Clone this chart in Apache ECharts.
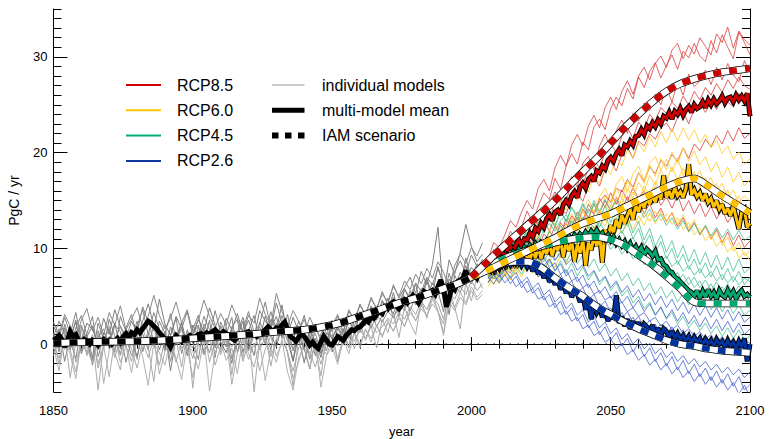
<!DOCTYPE html>
<html><head><meta charset="utf-8">
<script src="https://cdn.jsdelivr.net/npm/echarts@6/dist/echarts.min.js"></script>
<style>html,body{margin:0;padding:0;background:#fff}#c{width:774px;height:439px}</style>
</head><body><div id="c"></div>
<script>
// ---------- data ----------
const HIST_START = 1850, FUT_START = 2006, MODEL_STEP = 2;
// historical individual models (1850..2004 every 2 years)
const hist1 = [1.2,-0.8,2.1,0.3,-1.5,1.8,0.6,-2.2,1.4,-0.4, 2.6,0.9,-1.1,1.7,3.1,0.8,2.4,4.2,1.9,-0.6, 1.3,-2.8,0.7,2.2,-0.9,1.6,3.0,0.2,2.5,-1.4, 1.9,0.4,-2.0,1.2,2.8,0.5,-1.2,2.3,1.0,3.4, 1.5,4.1,0.9,-1.7,1.8,-0.5,-2.6,0.6,-1.0,2.0, -0.8,1.7,0.4,2.6,1.1,3.2,1.9,4.0,2.5,4.6, 3.3,5.4,2.9,5.8,4.4,6.3,3.9,6.8,5.2,8.1, 6.0,3.1,7.2,5.9,9.0,6.8,8.4,7.1];
const hist2 = [-0.5,1.6,-1.8,0.9,2.3,-0.7,1.1,2.9,-1.3,0.8, -0.2,2.0,1.3,-1.9,0.5,2.4,-0.8,1.0,3.3,1.6, -0.4,0.9,2.7,-1.0,1.5,0.1,-1.6,2.1,0.9,3.5, 1.2,-0.3,1.8,2.6,-0.9,1.4,3.0,0.3,1.7,-0.6, 2.2,0.8,3.1,0.5,2.4,1.1,-1.5,1.9,0.3,-0.7, 2.5,0.6,1.6,-0.4,2.9,1.4,2.2,3.7,1.8,3.0, 4.8,2.7,4.2,3.5,5.6,4.1,5.0,6.7,4.6,6.1, 4.9,7.4,5.5,6.3,8.2,6.5,7.6,8.9];
const hist3 = [0.4,-2.1,1.0,-3.5,0.2,1.5,-1.2,0.6,-4.8,0.1, 1.9,-0.9,-2.7,1.2,0.3,-1.6,1.8,-0.3,-3.9,0.8, 2.0,-1.1,0.5,-2.4,1.3,-4.6,0.7,1.6,-1.9,0.4, -0.8,2.1,-3.2,0.9,-1.4,1.5,-5.0,0.2,1.1,-2.3, 0.6,1.9,-1.0,-4.4,0.8,-2.0,1.4,-0.6,-3.3,0.9, 1.6,-1.8,0.3,1.8,-0.5,2.3,0.4,1.9,-0.4,2.6, 1.2,3.3,0.7,3.9,2.2,1.0,4.6,2.7,5.3,3.4, 2.1,5.9,3.8,1.6,6.4,4.5,7.1,5.8];
const hist4 = [1.9,0.7,2.8,1.1,3.3,0.4,2.2,1.5,0.2,2.7, 1.0,3.6,1.8,0.5,2.4,1.2,3.9,2.3,1.4,4.7, 2.1,0.9,2.9,1.6,3.4,0.8,2.6,1.3,3.8,2.0, 0.6,2.7,1.5,3.2,1.1,2.5,0.7,3.5,2.4,1.6, 4.3,2.2,0.9,2.8,1.3,3.0,0.5,2.1,1.7,0.4, 1.9,3.1,1.2,3.6,2.4,4.2,3.0,4.9,3.6,5.5, 4.1,6.2,4.8,5.9,7.0,5.3,7.6,6.2,8.3,12.2, 5.1,8.8,7.3,9.6,12.5,10.2,8.6,9.4];
const hist5 = [-1.2,0.4,-0.6,1.3,-1.9,0.2,-0.8,1.0,-2.5,-0.3, 0.8,-1.4,0.6,-0.2,-1.8,0.9,-0.5,1.4,0.0,-2.2, 0.5,-0.9,1.2,-0.4,0.3,-1.5,0.9,-0.7,0.4,1.3, -1.1,0.6,-0.3,1.0,-1.8,0.2,1.1,-0.6,0.7,-1.3, 0.3,1.4,-0.9,-2.8,-0.4,0.5,-1.6,-0.2,-2.1,0.1, -0.6,1.0,-0.1,0.9,0.3,1.5,0.6,2.1,1.2,1.8, 2.7,2.1,3.3,2.6,3.9,3.1,4.5,3.6,5.0,4.2, 2.6,5.4,4.7,6.0,5.2,6.6,5.6,6.3];
const hist6 = [0.8,2.4,1.1,-0.6,1.7,3.0,0.9,-1.4,2.2,0.5, 1.6,-0.8,2.9,1.3,0.2,1.9,3.6,1.0,-0.3,2.4, 1.1,3.2,0.4,1.8,-1.2,2.0,0.7,2.9,1.5,-0.4, 2.3,1.0,2.8,-0.9,1.6,3.4,1.2,2.1,4.4,1.7, 2.9,0.6,1.8,-0.7,1.4,2.6,0.9,-1.2,1.1,2.3, 0.5,2.0,1.3,3.0,1.9,3.4,2.5,3.8,2.9,4.4, 3.6,4.9,4.2,5.7,4.9,6.4,5.5,7.0,6.2,7.9, 6.3,6.0,7.6,8.7,7.4,9.3,8.1,8.7];
const hist7 = [-0.3,-2.8,0.9,-1.1,-3.6,0.5,-0.4,-2.0,1.2,-4.1, -0.7,0.8,-1.9,-0.2,-3.0,0.6,-1.3,-4.3,0.2,-0.9, -2.2,0.4,-1.5,-3.7,0.1,-0.8,-2.6,0.5,-4.9,-0.9, 0.3,-1.7,-0.4,-3.1,0.7,-1.0,-2.4,0.2,-3.8,-0.6, -1.9,0.5,-2.9,-4.8,-1.4,-0.3,-2.5,0.4,-4.5,-1.2, -0.2,-2.1,0.6,-1.0,1.1,-0.4,1.6,0.2,2.0,0.7, 2.5,1.3,3.0,1.8,3.6,2.4,4.1,2.9,4.7,3.5, 1.2,4.9,3.8,5.4,4.3,6.0,4.9,5.6];
const hist8 = [2.3,1.0,3.1,1.9,0.6,2.5,3.7,1.4,2.8,0.9, 3.3,2.0,4.0,1.5,2.6,3.8,1.8,2.9,5.1,3.0, 1.6,2.7,4.4,2.2,3.6,1.3,2.5,4.6,2.9,1.7, 3.2,2.0,4.1,2.6,1.2,3.0,2.2,4.8,3.1,2.0, 5.3,3.4,1.9,3.5,2.4,1.1,2.8,1.5,0.7,2.2, 1.3,2.9,1.8,3.4,2.6,4.0,3.1,4.7,3.8,5.2, 4.5,6.0,5.0,6.6,5.7,7.3,6.3,7.9,6.9,8.6, 7.5,5.9,8.2,9.4,8.4,10.1,9.2,10.6];
const hist9 = [0.9,-0.4,1.7,0.2,2.5,-1.0,0.8,1.9,-0.6,1.2, 0.3,2.2,-0.5,1.6,0.6,-1.3,1.4,2.6,0.1,1.0, -0.7,1.8,0.4,2.3,-0.2,1.1,2.0,-1.1,0.9,1.7, 0.2,-0.9,1.5,0.7,2.4,-0.4,1.3,0.5,2.9,1.0, -0.3,1.9,0.4,-1.8,0.9,-0.6,1.5,0.3,-1.4,1.2, 0.6,1.8,0.9,2.4,1.5,2.0,3.1,2.2,3.5,2.8, 4.0,3.2,4.7,3.9,5.1,4.5,5.8,4.9,6.4,5.5, 3.4,6.8,5.9,7.5,6.6,8.0,7.3,7.9];
const hist10 = [-0.9,0.6,1.4,-0.3,0.9,2.0,0.1,-1.7,0.7,1.6, -0.5,0.4,1.9,0.8,-1.2,0.5,1.1,-0.6,2.1,0.3, 1.0,-1.8,0.6,1.5,0.2,-0.4,1.8,0.7,-0.9,1.3, 0.5,1.7,-1.5,0.4,1.2,-0.7,0.9,1.8,0.0,2.6, 1.4,3.0,0.8,-0.5,0.6,-1.9,0.3,1.1,-0.8,0.4, 1.0,-0.2,1.4,0.6,1.9,1.2,2.6,1.7,3.0,2.3, 3.4,2.8,3.8,4.6,3.5,5.0,4.3,5.5,4.8,6.2, 5.3,4.0,6.1,5.4,7.0,6.3,7.7,7.0];
const hist11 = [0.1,-1.5,0.7,-0.6,-2.9,0.3,-1.0,0.5,-2.0,-0.2, -3.4,0.4,-1.2,0.8,-0.5,-2.5,0.2,-1.4,0.6,-3.1, -0.8,0.3,-1.9,0.5,-0.4,-3.5,0.0,-1.1,0.7,-2.2, -0.3,0.6,-4.2,-0.9,0.4,-1.6,0.1,-2.8,-0.5,0.8, -1.3,0.2,-0.7,-3.6,-1.8,0.3,-0.9,-2.4,-0.2,-1.1, 0.4,-1.5,0.8,-0.3,1.2,0.0,1.5,0.6,1.9,0.9, 2.2,1.4,2.7,1.9,3.3,2.5,3.7,3.0,4.2,3.4, 0.9,4.4,3.5,4.9,4.1,5.6,4.6,5.2];

// historical multi-model mean (yearly 1850..2005)
const histMean = [0.4,0.6,0.9,0.5,-0.3,0.4,1.3,0.8,1.0,0.4, 0.2,0.5,0.3,0.0,0.4,0.2,-0.1,0.3,0.5,0.2, 0.4,0.0,0.3,0.6,0.2,0.8,1.1,0.7,1.2,1.0, 1.5,1.2,1.6,2.0,2.4,2.2,1.9,1.6,1.2,0.9, 0.5,0.2,-0.3,0.4,0.9,0.6,0.3,0.5,0.7,0.9, 0.6,0.8,1.0,1.1,0.9,1.2,1.0,1.3,1.5,1.2, 1.0,1.3,1.1,0.9,0.6,0.4,0.7,1.0,0.9,1.2, 1.3,1.0,1.1,0.8,1.1,1.2,1.5,1.8,1.5,1.4, 1.7,1.6,2.0,2.3,1.6,0.8,0.6,0.3,0.7,1.1, 0.8,0.4,-0.1,0.2,-0.2,-0.45,0.2,0.8,0.4,0.0, -0.1,0.3,0.8,0.6,0.4,0.9,1.2,1.5,1.4,1.7, 1.8,2.1,2.5,2.3,2.9,2.7,3.1,3.4,3.2,3.9, 3.7,4.2,4.4,4.0,3.7,4.1,4.6,4.3,4.8,5.1, 4.7,4.3,4.9,5.5,5.3,5.4,5.6,5.2,6.0,6.7, 5.8,3.9,4.8,6.0,5.7,6.5,6.7,6.9,7.7,6.8, 7.0,7.3,6.9,7.6,8.0,7.5];

// historical IAM scenario
const histIAMYears = [1850,1860,1870,1880,1890,1900,1910,1920,1930,1940,1950,1955,1960,1965,1970,1975,1980,1985,1990,1995,2000];
const histIAM = [0.1,0.2,0.25,0.3,0.4,0.6,0.8,1.0,1.3,1.5,2.0,2.4,2.9,3.4,3.9,4.4,4.8,5.3,5.8,6.3,7.0];

// future individual models (2006..2100 every 2 years)
const rcp85Models = [
 [8.5,9.9,9.1,10.2,11.8,10.9,12.2,13.9, 12.7,14.4,15.8,15.1,17.3,16.2,18.6,19.9, 18.8,21.1,20.3,22.7,23.5,22.4,24.6,25.8, 24.9,26.7,25.6,27.9,26.8,28.5,29.4,27.8, 29.1,30.2,28.7,30.6,29.9,31.4,30.1,29.5, 31.7,30.4,32.3,31.0,29.8,32.6,31.5,30.2],
 [7.1,8.8,9.6,8.5,10.4,9.7,11.9,11.0, 12.8,13.6,12.1,14.7,15.9,14.8,16.3,17.5, 16.4,18.9,19.6,18.2,20.7,21.9,20.5,22.3, 23.4,22.0,24.1,23.3,25.2,24.4,26.1,25.0, 26.8,25.3,27.4,26.0,28.2,26.9,27.5,28.6, 27.1,28.9,27.6,29.3,28.1,27.4,29.6,28.4],
 [7.9,8.3,9.4,8.7,9.2,10.6,10.1,11.3, 10.5,12.0,12.9,11.8,13.4,14.2,13.6,15.1, 15.8,14.9,16.6,17.4,16.5,18.3,19.0,18.1, 19.8,20.6,19.4,21.2,20.7,22.0,21.4,22.6, 23.1,22.2,23.7,24.3,23.0,24.6,25.1,24.2, 25.4,24.5,26.0,25.3,24.8,26.2,25.6,25.1],
 [6.4,7.7,7.0,8.1,7.4,8.9,8.2,9.6, 9.0,10.3,9.8,11.2,10.4,11.9,12.6,11.7, 13.3,12.5,14.1,13.6,14.9,15.6,14.8,16.3, 15.9,17.2,16.4,17.9,17.0,18.5,17.8,19.2, 18.6,19.8,19.1,20.5,19.4,20.9,20.2,21.4, 20.6,21.8,20.9,22.3,21.2,22.6,21.5,22.0],
 [7.6,6.8,8.4,7.9,9.1,8.3,9.8,9.2, 10.7,10.0,11.5,10.9,12.3,11.4,13.1,12.2, 13.8,12.9,14.6,13.7,15.2,14.3,15.8,14.6, 16.1,15.0,16.3,15.2,16.0,14.9,15.7,14.5, 15.4,14.2,15.6,13.9,15.0,13.6,14.7,13.3, 14.4,13.1,14.0,12.7,13.6,12.4,13.8,12.9],
 [8.9,10.6,10.1,11.4,12.9,12.2,13.8,15.0, 14.1,16.3,17.2,16.0,18.4,19.7,18.6,20.8, 21.9,20.7,22.8,23.9,22.6,24.7,25.8,24.5, 26.4,27.5,26.1,28.0,28.9,27.6,29.3,30.1, 28.9,30.7,31.4,29.8,31.2,30.3,32.0,31.1, 30.2,32.4,31.5,33.1,30.9,32.7,31.8,31.2],
 [8.0,9.2,8.6,10.1,10.8,9.9,11.6,12.4, 11.5,13.3,14.1,13.0,14.9,15.7,15.0,16.8, 17.7,16.6,18.5,19.4,18.3,20.1,21.0,20.0, 21.7,22.6,21.5,23.2,22.4,24.0,23.3,24.7, 24.1,25.3,24.6,25.9,25.0,26.4,25.5,26.8, 26.0,27.2,26.3,27.6,26.7,27.9,27.0,26.6],
 [6.9,7.8,7.2,8.7,8.0,9.5,8.8,10.2, 9.4,11.0,10.3,11.8,11.0,12.7,11.9,13.4, 12.6,14.1,13.2,14.6,13.7,15.0,13.9,15.3, 14.1,15.4,14.0,15.1,13.6,14.7,13.2,14.2, 12.8,13.7,12.3,13.2,11.8,12.7,11.4,12.3, 11.0,12.0,10.6,11.7,10.3,11.4,10.1,10.8]
];
const rcp60Models = [
 [7.9,9.3,8.6,10.2,9.4,11.1,10.3,12.0, 11.2,12.9,12.1,13.8,13.0,14.9,14.0,15.8, 15.0,16.7,15.9,17.6,16.8,18.6,17.7,19.5, 18.6,20.3,19.4,21.0,20.1,21.7,20.6,22.2, 21.0,22.5,21.2,22.6,21.3,22.4,21.0,21.9, 20.5,21.3,19.9,20.7,19.3,20.1,18.8,19.4],
 [7.2,8.4,7.6,9.1,8.5,9.8,9.0,10.6, 9.7,11.3,10.2,11.9,10.8,12.5,11.4,13.2, 12.0,13.9,12.8,14.7,13.6,15.5,14.4,16.3, 15.2,17.1,16.0,17.9,16.8,18.7,17.5,19.4, 18.2,20.1,18.8,20.5,19.1,20.2,18.7,19.6, 18.0,19.0,17.4,18.5,16.9,18.0,16.5,17.2],
 [6.8,7.5,8.3,7.4,8.8,8.0,9.3,8.4, 9.7,8.9,10.2,9.3,10.6,9.8,11.1,10.3, 11.7,10.9,12.4,11.6,13.1,12.3,13.9,13.0, 14.6,13.8,15.3,14.5,16.0,15.1,16.5,15.6, 16.9,15.9,17.2,15.8,16.9,15.3,16.3,14.6, 15.6,14.0,15.0,13.4,14.4,12.9,13.8,13.1],
 [6.0,7.0,6.3,7.5,6.7,7.9,7.0,8.3, 7.4,8.6,7.7,8.9,8.0,9.3,8.4,9.8, 8.9,10.4,9.5,11.1,10.2,11.8,10.9,12.5, 11.5,13.0,12.0,13.4,12.4,13.7,12.6,13.9, 12.7,13.8,12.5,13.5,12.1,13.0,11.5,12.4, 10.9,11.8,10.3,11.2,9.7,10.6,9.2,9.8],
 [7.0,6.2,7.8,7.1,8.5,7.6,9.0,8.1, 9.6,8.6,10.1,9.2,10.8,9.9,11.5,10.6, 12.2,11.3,12.9,12.0,13.7,12.8,14.5,13.6, 15.2,14.3,15.9,15.0,16.5,15.5,17.0,15.9, 17.3,16.0,17.2,15.8,16.8,15.3,16.2,14.7, 15.5,14.0,14.8,13.3,14.1,12.6,13.4,12.0],
 [7.5,8.0,7.2,8.6,7.9,9.2,8.3,9.5, 8.7,10.0,9.4,10.7,9.9,11.3,10.5,12.0, 11.2,12.8,12.0,13.6,12.9,14.5,13.8,15.4, 14.6,16.2,15.3,16.9,16.0,17.6,16.6,18.2, 17.0,18.5,17.1,18.4,16.8,18.0,16.3,17.4, 15.7,16.8,15.0,16.1,14.4,15.5,13.8,14.5],
 [7.5,6.9,8.2,8.9,7.8,9.4,10.1,9.0, 10.6,11.4,10.2,11.9,12.7,11.3,12.4,13.6, 12.8,14.2,15.1,13.7,15.4,16.3,14.9,16.7, 17.5,16.0,17.8,18.6,17.1,18.9,19.6,18.2, 19.3,18.0,19.5,17.6,18.8,17.2,18.1,16.6, 17.4,16.0,16.8,15.3,16.1,14.8,15.5,14.9],
 [6.4,7.3,6.8,7.1,8.0,7.2,8.4,7.6, 8.8,8.1,9.2,8.5,9.7,9.0,10.3,9.5, 10.8,10.1,11.4,10.6,12.0,11.2,12.6,11.7, 13.1,12.3,13.5,12.6,13.8,12.8,13.9,12.9, 13.6,12.5,13.2,12.0,12.7,11.4,12.1,10.8, 11.5,10.2,10.9,9.6,10.3,9.0,9.6,8.7]
];
const rcp45Models = [
 [7.8,9.0,8.4,9.9,9.2,10.8,10.0,11.7, 10.9,12.5,11.6,13.2,12.3,13.8,12.9,14.3, 13.4,14.7,13.7,15.0,13.9,15.1,14.0,15.0, 13.9,14.8,13.6,14.5,13.2,14.1,12.8,13.6, 12.4,13.2,12.0,12.9,11.7,12.6,11.5,12.4, 11.3,12.2,11.1,12.0,10.9,11.9,10.8,11.3],
 [7.0,8.1,7.6,8.8,8.2,9.4,8.7,9.9, 9.1,10.3,9.5,10.7,9.9,11.1,10.2,11.3, 10.4,11.4,10.4,11.3,10.2,11.0,9.9,10.6, 9.4,10.1,8.9,9.5,8.3,8.9,7.7,8.3, 7.1,7.8,6.6,7.3,6.2,7.0,5.9,6.7, 5.6,6.5,5.4,6.3,5.2,6.1,5.0,5.6],
 [6.4,7.3,6.6,7.8,7.0,8.2,7.3,8.5, 7.5,8.7,7.6,8.8,7.6,8.7,7.4,8.5, 7.1,8.1,6.7,7.6,6.2,7.0,5.6,6.4, 5.0,5.7,4.3,5.0,3.7,4.4,3.1,3.8, 2.6,3.3,2.1,2.9,1.7,2.5,1.4,2.2, 1.1,1.9,0.8,1.7,0.6,1.5,0.4,0.9],
 [8.2,9.4,8.9,10.4,9.8,11.3,10.5,12.1, 11.2,12.8,11.8,13.4,12.3,13.9,12.7,14.3, 13.0,14.6,13.1,14.7,13.0,14.5,12.7,14.1, 12.2,13.5,11.6,12.8,10.9,12.1,10.2,11.4, 9.6,10.8,9.0,10.3,8.6,9.9,8.3,9.6, 8.0,9.3,7.8,9.1,7.6,8.9,7.4,8.0],
 [7.4,6.8,8.3,7.6,9.0,8.3,9.6,8.8, 10.1,9.3,10.6,9.7,11.0,10.1,11.4,10.4, 11.7,10.6,11.8,10.7,11.7,10.5,11.4,10.1, 10.9,9.5,10.2,8.8,9.5,8.1,8.8,7.4, 8.1,6.8,7.5,6.3,7.0,5.9,6.6,5.5, 6.3,5.2,6.0,4.9,5.7,4.7,5.5,4.8],
 [7.6,8.5,7.9,9.2,8.6,9.9,9.2,10.6, 9.8,11.2,10.4,11.8,10.9,12.4,11.4,12.9, 11.8,13.3,12.1,13.5,12.2,13.5,12.0,13.2, 11.6,12.7,11.0,12.1,10.3,11.4,9.6,10.7, 8.9,10.0,8.3,9.4,7.8,8.9,7.4,8.5, 7.0,8.2,6.7,7.9,6.5,7.6,6.2,7.0],
 [7.3,8.0,8.9,8.2,9.5,10.3,9.6,10.8, 11.5,10.7,11.9,12.6,11.8,12.9,13.5,12.6, 13.2,12.4,13.0,12.1,12.7,11.8,12.2,11.2, 11.8,10.7,11.1,10.0,10.5,9.3,9.8,8.7, 9.2,8.1,8.7,7.6,8.2,7.2,7.9,6.9, 7.6,6.6,7.3,6.4,7.1,6.2,6.9,6.5],
 [6.8,7.7,7.2,8.3,7.7,8.9,8.1,9.2, 8.4,9.5,8.6,9.7,8.7,9.8,8.6,9.6, 8.4,9.3,8.0,8.9,7.6,8.4,7.1,7.9, 6.6,7.4,6.1,6.9,5.6,6.4,5.2,6.0, 4.8,5.6,4.4,5.3,4.1,5.0,3.8,4.7, 3.6,4.5,3.4,4.3,3.2,4.1,3.0,3.6]
];
const rcp26Models = [
 [8.0,9.1,8.5,9.8,9.0,10.2,9.3,10.4, 9.4,10.3,9.2,10.0,8.8,9.5,8.3,8.9, 7.7,8.3,7.1,7.7,6.5,7.1,5.9,6.6, 5.4,6.1,4.9,5.7,4.5,5.3,4.1,5.0, 3.8,4.7,3.5,4.4,3.2,4.2,3.0,4.0, 2.8,3.8,2.6,3.6,2.4,3.4,2.3,2.8],
 [7.3,8.2,7.6,8.7,7.9,8.9,8.0,8.8, 7.8,8.5,7.3,7.9,6.7,7.3,6.0,6.6, 5.3,5.9,4.6,5.2,3.9,4.5,3.3,3.9, 2.7,3.4,2.2,2.9,1.8,2.5,1.4,2.1, 1.1,1.8,0.8,1.5,0.5,1.2,0.2,0.9, 0.0,0.7,-0.2,0.5,-0.4,0.3,-0.6,-0.2],
 [6.5,7.2,6.4,7.3,6.3,7.1,5.9,6.6, 5.3,5.9,4.6,5.2,3.8,4.5,3.1,3.8, 2.4,3.1,1.7,2.4,1.0,1.8,0.4,1.2, -0.2,0.6,-0.8,0.1,-1.3,-0.4,-1.8,-0.9, -2.3,-1.3,-2.7,-1.7,-3.1,-2.1,-3.4,-2.5, -3.8,-2.8,-4.1,-3.1,-4.4,-3.4,-4.8,-4.2],
 [8.4,7.6,9.2,8.3,9.6,8.7,9.8,8.8, 9.6,8.5,9.1,8.0,8.5,7.3,7.8,6.6, 7.0,5.9,6.3,5.2,5.6,4.6,5.0,4.0, 4.4,3.4,3.8,2.9,3.3,2.4,2.8,1.9, 2.4,1.5,2.0,1.1,1.6,0.8,1.3,0.5, 1.0,0.2,0.8,0.0,0.6,-0.2,0.4,0.1],
 [7.0,6.3,7.2,6.4,7.0,6.0,6.5,5.4, 5.8,4.7,5.0,3.9,4.3,3.1,3.5,2.4, 2.8,1.6,2.0,0.9,1.3,0.2,0.6,-0.5, 0.0,-1.1,-0.6,-1.7,-1.1,-2.2,-1.6,-2.7, -2.0,-3.1,-2.4,-3.5,-2.8,-3.9,-3.1,-4.2, -3.4,-4.5,-3.7,-4.8,-4.0,-5.2,-4.3,-5.5],
 [7.7,8.6,8.0,9.1,8.4,9.4,8.6,9.5, 8.5,9.3,8.2,8.9,7.7,8.4,7.1,7.8, 6.5,7.2,5.9,6.6,5.3,6.0,4.8,5.5, 4.3,5.0,3.8,4.6,3.4,4.2,3.0,3.9, 2.7,3.6,2.4,3.3,2.1,3.0,1.8,2.8, 1.6,2.6,1.4,2.4,1.2,2.2,1.0,1.6],
 [7.9,8.5,9.2,8.4,9.0,8.1,8.8,7.6, 8.3,7.0,7.6,6.3,6.9,5.6,6.2,4.9, 5.5,4.3,4.9,3.6,4.3,3.0,3.8,2.5, 3.3,2.0,2.8,1.6,2.4,1.2,2.1,0.8, 1.8,0.5,1.5,0.2,1.2,-0.1,1.0,-0.3, 0.8,-0.5,0.6,-0.7,0.4,-0.9,0.3,-0.4],
 [6.9,7.6,7.0,7.8,6.9,7.5,6.4,7.0, 5.8,6.4,5.1,5.7,4.4,5.0,3.7,4.3, 3.0,3.6,2.3,2.9,1.7,2.3,1.1,1.7, 0.5,1.1,0.0,0.6,-0.5,0.1,-1.0,-0.4, -1.4,-0.8,-1.8,-1.2,-2.1,-1.5,-2.4,-1.8, -2.7,-2.1,-3.0,-2.4,-3.2,-2.6,-3.5,-2.9]
];

// future multi-model means (yearly 2006..2100)
const rcp85Mean = [7.8,8.6,8.8,8.2,9.0,9.6,9.1,9.9,10.3,9.7, 10.4,10.9,10.2,11.0,10.9,11.6,11.2,12.1,11.8,12.6, 12.2,13.1,13.5,12.9,13.8,14.0,13.5,14.6,15.0,14.6, 15.5,15.9,15.3,16.4,16.8,16.3,17.2,17.5,17.0,18.1, 17.9,18.6,18.3,19.2,19.5,19.1,19.9,20.3,19.7,20.8, 20.6,21.2,20.8,21.7,21.8,22.4,21.9,22.8,22.5,23.1, 22.7,23.4,23.0,23.8,23.6,24.2,23.5,24.3,24.0,24.6, 23.9,24.5,24.8,24.2,25.0,24.6,24.8,25.3,24.7,25.5, 25.0,25.6,25.1,25.4,25.9,25.2,25.7,25.8,25.3,26.0, 25.5,25.9,25.4,26.2,23.8];
const rcp60Mean = [7.4,8.0,7.3,8.4,7.9,8.6,7.8,8.9,8.2,9.1, 8.0,8.8,9.3,8.4,9.6,8.7,9.9,9.0,10.2,8.9, 10.0,9.4,10.5,9.2,10.3,9.8,10.9,9.1,10.6,9.7, 10.8,8.6,10.4,9.5,10.9,8.2,10.6,9.8,11.3,10.2, 11.4,8.5,11.9,11.2,12.4,11.6,13.0,12.1,13.5,12.6, 13.4,14.1,13.0,14.5,13.8,15.0,14.2,15.3,14.6,15.6, 14.8,15.9,15.1,17.6,15.3,16.0,15.2,16.4,15.5,15.9, 15.3,16.2,18.8,15.6,16.1,15.4,15.8,15.0,15.7,14.8, 15.2,14.3,15.0,14.1,14.6,13.6,14.2,13.4,14.5,13.2, 12.0,13.8,14.1,12.2,12.6];
const rcp45Mean = [7.6,8.2,7.9,8.6,8.3,9.0,8.7,9.3,9.0,9.6, 9.2,9.9,9.5,10.1,9.7,10.3,9.9,10.5,10.1,10.6, 10.3,10.8,10.4,10.9,10.6,11.1,10.7,11.2,10.8,11.3, 10.9,11.4,11.0,11.5,11.2,11.7,11.3,11.8,11.4,11.9, 11.3,11.6,11.0,11.4,10.8,11.2,10.5,10.9,10.3,10.7, 10.0,10.5,9.8,10.2,9.6,10.1,9.3,9.9,9.6,9.2, 9.7,8.8,8.9,8.3,8.1,7.6,7.5,7.0,6.8,6.5, 6.2,5.9,5.6,5.4,5.0,5.6,4.8,5.5,4.9,5.7, 5.0,5.4,4.7,5.6,5.1,4.9,5.6,5.0,5.5,4.8, 5.3,5.6,5.0,5.2,4.9];
const rcp26Mean = [7.5,8.1,7.7,8.4,8.0,8.6,8.2,8.8,8.3,8.9, 8.4,8.8,8.2,8.7,8.1,8.6,7.6,8.3,7.3,7.9, 6.9,7.6,6.5,7.2,6.2,6.8,5.7,6.5,5.3,6.0, 4.9,5.6,5.3,4.4,5.1,3.6,4.5,2.6,4.2,3.3, 3.8,2.8,3.5,2.4,3.2,2.6,5.1,2.2,2.9,1.9, 2.6,1.6,2.4,1.5,2.3,1.3,2.1,1.8,1.2,2.0, 1.0,1.7,0.9,1.6,1.3,0.7,1.4,0.6,1.1,0.5, 0.9,0.3,0.8,0.1,0.7,0.2,0.6,-0.1,0.5,0.0, 0.4,-0.2,0.5,0.0,0.3,-0.3,0.4,-0.2,0.2,-0.4, 0.3,-0.3,0.6,-1.8,0.0];

// future IAM scenarios
const iamYears = [2000,2005,2010,2015,2020,2025,2030,2035,2040,2045,2050,2055,2060,2065,2070,2075,2080,2085,2090,2095,2100];
const rcp85IAM = [7.0,8.4,9.8,11.1,12.4,13.7,15.0,16.5,18.0,19.4,21.0,22.6,24.0,25.3,26.4,27.2,27.7,28.1,28.4,28.6,28.8];
const rcp60IAM = [7.0,7.6,8.3,9.0,9.7,10.4,11.1,11.9,12.6,13.1,13.6,14.3,15.0,15.7,16.4,17.0,17.3,16.5,15.5,14.6,13.7];
const rcp45IAM = [7.0,7.9,8.7,9.3,9.8,10.2,10.6,10.9,11.1,11.2,10.9,10.3,9.3,8.3,7.1,5.8,4.4,4.25,4.25,4.25,4.25];
const rcp26IAM = [7.0,7.8,8.3,8.6,8.6,8.0,6.9,5.9,5.0,3.9,3.1,2.3,1.6,1.0,0.4,0.0,-0.2,-0.5,-0.7,-0.8,-0.9];

// axis
const xTicks = {min:1850, max:2100, step:50};
const yRange = {min:-5, max:35};
const yLabelValues = [0,10,20,30];
const zeroLine = [[1850,0],[2108.6,0]];

// ---------- build ----------
const FONT = '"Liberation Sans", Arial, Helvetica, sans-serif';
const seq = (start, step, vals) => vals.map((v,i)=>[start+i*step, v]);
const zip = (xs, ys) => xs.map((x,i)=>[x, ys[i]]);
const series = [];
function line(data, ls, extra){
  series.push(Object.assign({type:'line', data, symbol:'none', silent:true, animation:false,
    lineStyle: ls}, extra||{}));
}
line(zeroLine, {color:'#000', width:1.2, type:[1.5,6.5]}, {clip:false});
const histModels = [hist1,hist2,hist3,hist4,hist5,hist6,hist7,hist8,hist9,hist10,hist11];
const histGrey = ['#808080','#868686','#aaaaaa','#7e7e7e','#a4a4a4','#848484','#b0b0b0','#888888','#7a7a7a','#8c8c8c','#acacac'];
histModels.forEach((m,i)=>line(seq(HIST_START, MODEL_STEP, m), {color:histGrey[i], width:1}));
const scen = [
  {models:rcp85Models, mc:'rgba(218,62,62,0.8)', mean:rcp85Mean, col:'#cc0000', iam:rcp85IAM},
  {models:rcp60Models, mc:'rgba(255,204,50,0.85)', mean:rcp60Mean, col:'#ffc000', iam:rcp60IAM},
  {models:rcp45Models, mc:'rgba(70,194,146,0.8)', mean:rcp45Mean, col:'#00a870', iam:rcp45IAM},
  {models:rcp26Models, mc:'rgba(70,100,205,0.8)', mean:rcp26Mean, col:'#0033a0', iam:rcp26IAM}
];
scen.forEach(s=>s.models.forEach(m=>line(seq(FUT_START, MODEL_STEP, m), {color:s.mc, width:1})));
function mean(data, col){
  line(data, {color:'#000', width:5, join:'miter', miterLimit:2.5});
  line(data, {color:col, width:3, join:'miter', miterLimit:2.5});
}
mean(seq(HIST_START,1,histMean), '#000');
scen.forEach(s=>mean(seq(FUT_START,1,s.mean), s.col));
function iam(data, col){
  line(data, {color:'#000', width:7.5}, {smooth:0.3});
  line(data, {color:'#fff', width:6}, {smooth:0.3});
  line(data, {color:col, width:6, type:[8,8], cap:'butt'}, {smooth:0.3});
}
iam(zip(histIAMYears, histIAM), '#000');
[3,2,1,0].forEach(i=>iam(zip(iamYears, scen[i].iam), scen[i].col));

const axisCommon = {
  axisLine:{show:true, lineStyle:{color:'#000', width:1}},
  splitLine:{show:false}, minorSplitLine:{show:false}
};
const xAxisBase = Object.assign({type:'value', min:xTicks.min, max:xTicks.max, interval:xTicks.step,
  axisTick:{show:true, inside:true, length:7, lineStyle:{color:'#000'}},
  minorTick:{show:true, splitNumber:5, length:4.5, lineStyle:{color:'#000'}}}, axisCommon);
const yMinorBase = Object.assign({type:'value', min:yRange.min, max:yRange.max, interval:1,
  axisTick:{show:true, inside:true, length:8, lineStyle:{color:'#000'}}}, axisCommon);
const yMajorBase = {type:'value', min:yRange.min, max:yRange.max,
  axisLine:{show:false}, splitLine:{show:false}, axisLabel:{show:false},
  axisTick:{show:true, inside:true, length:14, customValues:yLabelValues, lineStyle:{color:'#000'}}};

const gLegend = [];
const legLeft = [['RCP8.5','#d00000'],['RCP6.0','#ffc400'],['RCP4.5','#00b074'],['RCP2.6','#1238a0']];
legLeft.forEach((d,i)=>{
  const y = 85 + i*25.3;
  gLegend.push({type:'line', shape:{x1:126,y1:y,x2:161,y2:y}, style:{stroke:d[1], lineWidth:2}, silent:true});
  gLegend.push({type:'text', style:{text:d[0], x:177, y:y, font:'16px '+FONT, fill:'#000', verticalAlign:'middle', textVerticalAlign:'middle'}, silent:true});
});
const legRight = [['individual models',{stroke:'#999', lineWidth:1}],['multi-model mean',{stroke:'#000', lineWidth:5}],['IAM scenario',{stroke:'#000', lineWidth:6, lineDash:[6.5,6.5]}]];
legRight.forEach((d,i)=>{
  const y = 85 + i*25.3;
  gLegend.push({type:'line', shape:{x1:272,y1:y,x2:304.5,y2:y}, style:d[1], silent:true});
  gLegend.push({type:'text', style:{text:d[0], x:322, y:y, font:'16px '+FONT, fill:'#000', verticalAlign:'middle', textVerticalAlign:'middle'}, silent:true});
});

const chart = echarts.init(document.getElementById('c'), null, {renderer:'svg'});
chart.setOption({
  animation:false,
  backgroundColor:'#fff',
  grid:{left:53.5, right:24, top:9, bottom:47, containLabel:false, outerBoundsMode:'none'},
  xAxis:[
    Object.assign({}, xAxisBase, {position:'bottom',
      axisLabel:{color:'#000', fontSize:13, fontFamily:FONT, margin:12, formatter:v=>String(v)},
      name:'year', nameLocation:'middle', nameGap:33, nameTextStyle:{color:'#000', fontSize:13, fontFamily:FONT}}),
    Object.assign({}, xAxisBase, {position:'top', axisLabel:{show:false}})
  ],
  yAxis:[
    Object.assign({}, yMinorBase, {position:'left',
      axisLabel:{color:'#000', fontSize:13, fontFamily:FONT, margin:6, formatter:v=>(yLabelValues.indexOf(v)>=0?String(v):'')},
      name:'PgC / yr', nameLocation:'middle', nameGap:33, nameTextStyle:{color:'#000', fontSize:14, fontFamily:FONT}}),
    Object.assign({}, yMajorBase, {position:'left'}),
    Object.assign({}, yMinorBase, {position:'right', axisLabel:{show:false}}),
    Object.assign({}, yMajorBase, {position:'right'})
  ],
  series: series,
  graphic: gLegend
});
</script></body></html>
